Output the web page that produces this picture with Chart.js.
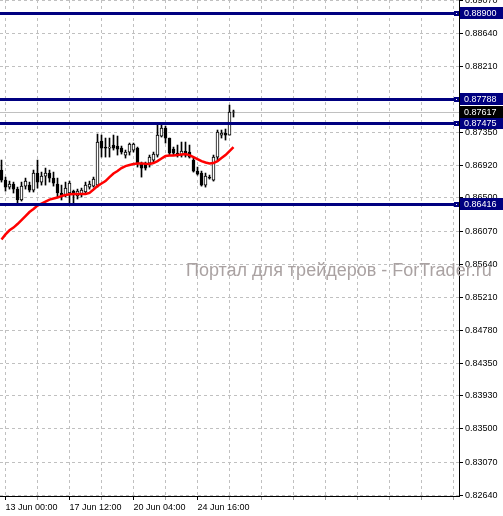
<!DOCTYPE html>
<html>
<head>
<meta charset="utf-8">
<script src="https://cdn.jsdelivr.net/npm/chart.js@4.4.0/dist/chart.umd.min.js"></script>
<style>
  html, body { margin: 0; padding: 0; background: #fff; }
  #wrap { width: 503px; height: 516px; }
</style>
</head>
<body>
<div id="wrap"><canvas id="chart" width="503" height="516"></canvas></div>
<script>
// EURGBP-like H4 candles, 12 Jun 20:00 .. 25 Jun
const opens = [
  0.86862, 0.86732, 0.86641, 0.86680, 0.86615, 0.86473, 0.86654, 0.86667, 0.86602, 0.86823,
  0.86706, 0.86784, 0.86823, 0.86758, 0.86680, 0.86564, 0.86538, 0.86564, 0.86589, 0.86525,
  0.86551, 0.86577, 0.86641, 0.86654, 0.86667, 0.87239, 0.87161, 0.87148, 0.87187, 0.87174,
  0.87148, 0.87057, 0.87096, 0.87122, 0.87148, 0.86953, 0.86953, 0.86953, 0.86992, 0.87057,
  0.87304, 0.87408, 0.87278, 0.87135, 0.87083, 0.87057, 0.87109, 0.87096, 0.86992, 0.86849,
  0.86823, 0.86667, 0.86771, 0.86732, 0.87031, 0.87317, 0.87343, 0.87317, 0.87615
];
const highs = [
  0.86992, 0.86771, 0.86719, 0.86706, 0.86641, 0.86706, 0.86758, 0.86706, 0.86862, 0.86992,
  0.86836, 0.86888, 0.86862, 0.86836, 0.86758, 0.86667, 0.86706, 0.86719, 0.86602, 0.86615,
  0.86628, 0.86706, 0.86719, 0.86771, 0.87330, 0.87317, 0.87278, 0.87278, 0.87317, 0.87304,
  0.87174, 0.87122, 0.87213, 0.87213, 0.87161, 0.86966, 0.86966, 0.87057, 0.87096, 0.87460,
  0.87447, 0.87434, 0.87278, 0.87161, 0.87187, 0.87226, 0.87226, 0.87187, 0.87018, 0.86901,
  0.86849, 0.86823, 0.86797, 0.87057, 0.87382, 0.87382, 0.87395, 0.87706, 0.87641
];
const lows = [
  0.86706, 0.86589, 0.86615, 0.86564, 0.86434, 0.86460, 0.86615, 0.86577, 0.86577, 0.86628,
  0.86667, 0.86667, 0.86706, 0.86654, 0.86512, 0.86473, 0.86512, 0.86434, 0.86434, 0.86486,
  0.86512, 0.86551, 0.86615, 0.86641, 0.86641, 0.87031, 0.87031, 0.87031, 0.87122, 0.87057,
  0.87070, 0.87018, 0.87057, 0.87096, 0.86901, 0.86771, 0.86862, 0.86901, 0.86966, 0.87031,
  0.87291, 0.87213, 0.87057, 0.87057, 0.87031, 0.87031, 0.87031, 0.87018, 0.86836, 0.86797,
  0.86654, 0.86641, 0.86745, 0.86719, 0.86992, 0.87278, 0.87252, 0.87317, 0.87551
];
const closes = [
  0.86732, 0.86641, 0.86680, 0.86615, 0.86473, 0.86654, 0.86719, 0.86602, 0.86823, 0.86706,
  0.86784, 0.86823, 0.86758, 0.86693, 0.86564, 0.86538, 0.86628, 0.86693, 0.86538, 0.86589,
  0.86602, 0.86667, 0.86680, 0.86745, 0.87226, 0.87148, 0.87148, 0.87161, 0.87148, 0.87135,
  0.87096, 0.87096, 0.87200, 0.87200, 0.86953, 0.86888, 0.86888, 0.87031, 0.87070, 0.87317,
  0.87408, 0.87278, 0.87083, 0.87083, 0.87057, 0.87109, 0.87057, 0.87031, 0.86849, 0.86810,
  0.86667, 0.86784, 0.86758, 0.87031, 0.87356, 0.87343, 0.87317, 0.87615, 0.87617
];
// moving average (red)
const maValues = [
  0.85960, 0.86027, 0.86080, 0.86115, 0.86161, 0.86213, 0.86265, 0.86317, 0.86356, 0.86401,
  0.86427, 0.86453, 0.86479, 0.86492, 0.86505, 0.86525, 0.86538, 0.86547, 0.86551, 0.86551,
  0.86551, 0.86551, 0.86566, 0.86609, 0.86654, 0.86687, 0.86719, 0.86771, 0.86817, 0.86849,
  0.86888, 0.86914, 0.86927, 0.86940, 0.86947, 0.86949, 0.86943, 0.86940, 0.86953, 0.86979,
  0.87012, 0.87044, 0.87051, 0.87051, 0.87057, 0.87064, 0.87070, 0.87057, 0.87031, 0.87005,
  0.86979, 0.86960, 0.86949, 0.86953, 0.86979, 0.87018, 0.87057, 0.87109, 0.87161
];
const levelValues = [0.88900, 0.87788, 0.87475, 0.86416];
const bidValue = 0.87617;

const yTickLabels = ['0.89070', '0.88640', '0.88210', '0.87780', '0.87350', '0.86920', '0.86500', '0.86070',
  '0.85640', '0.85210', '0.84780', '0.84350', '0.83930', '0.83500', '0.83070', '0.82640'];
const xTickLabels = ['13 Jun 00:00', '17 Jun 12:00', '20 Jun 04:00', '24 Jun 16:00'];
const xLabelBars = [1, 17, 33, 49];
const watermark = 'Портал для трейдеров - ForTrader.ru';

const yMin = 0.82629, yMax = 0.89071;
const NAVY = '#000080';
const FONT = 'Liberation Sans';

const gridBars = [];
for (let b = 1; b <= 113; b += 8) gridBars.push(b);

const overlay = {
  id: 'overlay',
  beforeDatasetsDraw(chart) {
    const { ctx, chartArea, scales: { y } } = chart;
    ctx.save();
    ctx.font = '18px "' + FONT + '"';
    ctx.fillStyle = '#aaa2a2';
    ctx.textBaseline = 'alphabetic';
    ctx.fillText(watermark, 186, 276);
    // bid line
    const py = Math.round(y.getPixelForValue(bidValue)) + 0.5;
    ctx.strokeStyle = '#c0c0c0';
    ctx.lineWidth = 1;
    ctx.beginPath();
    ctx.moveTo(chartArea.left, py);
    ctx.lineTo(chartArea.right, py);
    ctx.stroke();
    ctx.restore();
  },
  afterDatasetsDraw(chart) {
    const { ctx, chartArea, scales: { y } } = chart;
    ctx.save();
    ctx.font = '9px "' + FONT + '"';
    ctx.textBaseline = 'middle';
    const box = (v, color) => {
      const py = Math.round(y.getPixelForValue(v));
      ctx.fillStyle = color;
      ctx.fillRect(chartArea.right + 1, py - 6, 44, 12);
      ctx.fillStyle = '#fff';
      ctx.fillText(v.toFixed(5), chartArea.right + 5, py + 0.5);
    };
    levelValues.forEach(v => {
      const py = Math.round(y.getPixelForValue(v));
      ctx.fillStyle = NAVY;
      ctx.fillRect(chartArea.left, py - 1, chartArea.right - chartArea.left, 3);
      ctx.fillRect(chartArea.right - 5, py - 2, 5, 5);
      ctx.fillStyle = '#fff';
      ctx.fillRect(chartArea.right - 3, py, 1, 1);
      box(v, NAVY);
    });
    box(bidValue, '#000');
    ctx.restore();
  }
};

new Chart(document.getElementById('chart'), {
  type: 'bar',
  data: {
    datasets: [
      {
        type: 'line',
        data: maValues.map((v, i) => ({ x: i, y: v })),
        borderColor: '#ff0000',
        borderWidth: 2.5,
        pointRadius: 0,
        tension: 0,
        order: 0
      },
      {
        data: opens.map((o, i) => ({ x: i, y: [o, closes[i]] })),
        backgroundColor: opens.map((o, i) => closes[i] >= o ? '#ffffff' : '#000000'),
        borderColor: '#000000',
        borderWidth: 1,
        borderSkipped: false,
        barThickness: 3,
        grouped: false,
        order: 1
      },
      {
        data: lows.map((l, i) => ({ x: i, y: [l, highs[i]] })),
        backgroundColor: '#000000',
        barThickness: 1,
        grouped: false,
        order: 2
      }
    ]
  },
  options: {
    responsive: false,
    animation: false,
    events: [],
    layout: { padding: 0 },
    plugins: { legend: { display: false }, tooltip: { enabled: false } },
    scales: {
      x: {
        type: 'linear',
        offset: false,
        min: -0.375,
        max: 114.375,
        afterBuildTicks: s => { s.ticks = gridBars.map(v => ({ value: v })); },
        afterFit: s => { s.height = 20; s.paddingLeft = 0; s.paddingRight = 0; },
        ticks: {
          callback: v => { const k = xLabelBars.indexOf(v); return k >= 0 ? xTickLabels[k] : ''; },
          align: 'start',
          font: { family: FONT, size: 9 },
          color: '#000',
          padding: 2,
          maxRotation: 0,
          autoSkip: false
        },
        grid: {
          offset: false,
          color: '#c0c0c0',
          tickLength: 4,
          tickColor: c => xLabelBars.includes(c.tick && c.tick.value) ? '#000' : '#a0a0a0'
        },
        border: { color: '#000', dash: [3, 3] }
      },
      y: {
        position: 'right',
        min: yMin,
        max: yMax,
        afterBuildTicks: s => { s.ticks = yTickLabels.map(t => ({ value: parseFloat(t) })); },
        afterFit: s => { s.width = 44; s.paddingTop = 0; s.paddingBottom = 0; },
        ticks: {
          callback: v => v.toFixed(5),
          font: { family: FONT, size: 9 },
          color: '#000',
          padding: 2,
          autoSkip: false
        },
        grid: { color: '#c0c0c0', tickLength: 4, tickColor: '#000' },
        border: { color: '#000', dash: [3, 3] }
      }
    }
  },
  plugins: [overlay]
});
</script>
</body>
</html>
